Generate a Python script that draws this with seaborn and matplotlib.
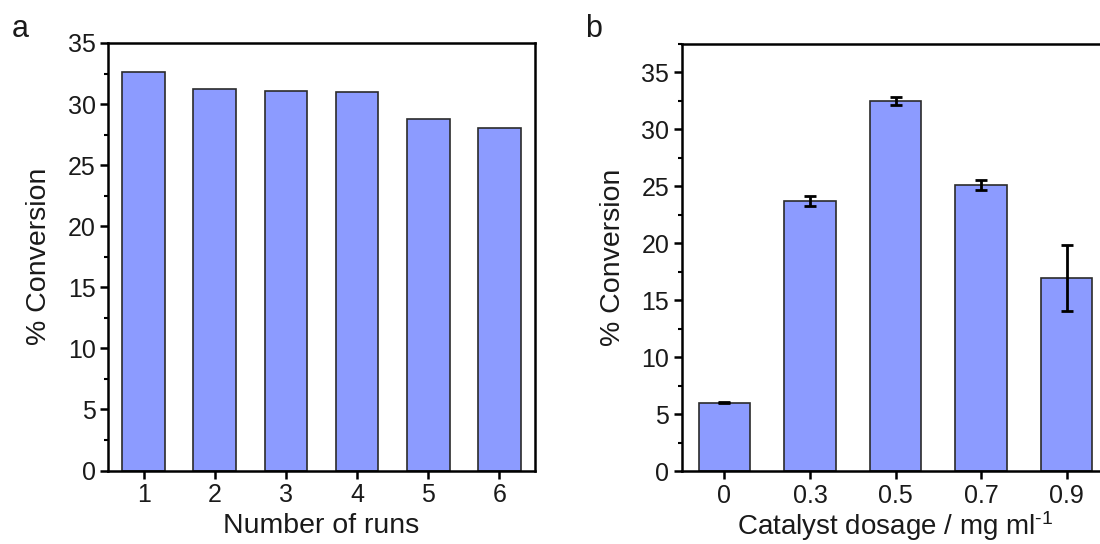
import numpy as np
import pandas as pd
import matplotlib
matplotlib.use("Agg")
import matplotlib.pyplot as plt
import seaborn as sns
from matplotlib.ticker import MultipleLocator

# data
runs = ["1", "2", "3", "4", "5", "6"]
conv_runs = [32.6, 31.2, 31.1, 31.0, 28.8, 28.0]

dosage = ["0", "0.3", "0.5", "0.7", "0.9"]
conv_dose = [6.0, 23.7, 32.5, 25.1, 16.95]
err_dose = [0.05, 0.45, 0.35, 0.45, 2.9]

bar_color = "#8c9bff"
edge_color = "#2b2b2b"

sns.set_style("ticks")
plt.rcParams["font.family"] = ["Liberation Sans", "DejaVu Sans"]
plt.rcParams["mathtext.fontset"] = "custom"
plt.rcParams["mathtext.rm"] = "Liberation Sans"
plt.rcParams["mathtext.it"] = "Liberation Sans:italic"
plt.rcParams["mathtext.bf"] = "Liberation Sans:bold"
for k in ["text.color", "axes.labelcolor", "xtick.color", "ytick.color"]:
    plt.rcParams[k] = "#1a1a1a"

fig = plt.figure(figsize=(11, 5.44), dpi=100)
ax1 = fig.add_axes([0.0982, 0.135, 0.3882, 0.786])
ax2 = fig.add_axes([0.6197, 0.134, 0.3888, 0.786])

df_runs = pd.DataFrame({"run": runs, "conv": conv_runs})
df_dose = pd.DataFrame({"dose": dosage, "conv": conv_dose})

sns.barplot(data=df_runs, x="run", y="conv", color=bar_color, saturation=1,
            width=0.6, edgecolor=edge_color, linewidth=1.2, ax=ax1)
sns.barplot(data=df_dose, x="dose", y="conv", color=bar_color, saturation=1,
            width=0.6, edgecolor=edge_color, linewidth=1.2, ax=ax2)
ax2.errorbar(np.arange(len(dosage)), conv_dose, yerr=err_dose, fmt="none",
             ecolor="black", elinewidth=2, capsize=4.5, capthick=2, zorder=5)

# axis settings
ax1.set_ylim(0, 35)
ax1.set_xlim(-0.5, 5.5)
ax2.set_ylim(0, 37.5)
ax2.set_xlim(-0.5, 4.5)

for ax in (ax1, ax2):
    ax.yaxis.set_major_locator(MultipleLocator(5))
    ax.yaxis.set_minor_locator(MultipleLocator(2.5))
    ax.tick_params(axis="both", which="major", direction="out", length=6,
                   width=1.8, labelsize=18, pad=3, color="black")
    ax.tick_params(axis="y", which="minor", direction="out", length=3,
                   width=1.5, color="black")
    for s in ax.spines.values():
        s.set_visible(True)
        s.set_linewidth(1.8)
        s.set_color("black")
    ax.set_ylabel("% Conversion", fontsize=20.5, labelpad=11)

ax1.set_xlabel("Number of runs", fontsize=20.5, labelpad=4)
ax2.set_xlabel("Catalyst dosage / mg ml$^{\\text{-1}}$", fontsize=20, labelpad=1)

fig.text(0.011, 0.92, "a", fontsize=22, va="bottom")
fig.text(0.532, 0.92, "b", fontsize=22, va="bottom")

fig.savefig("out.png", dpi=100)
